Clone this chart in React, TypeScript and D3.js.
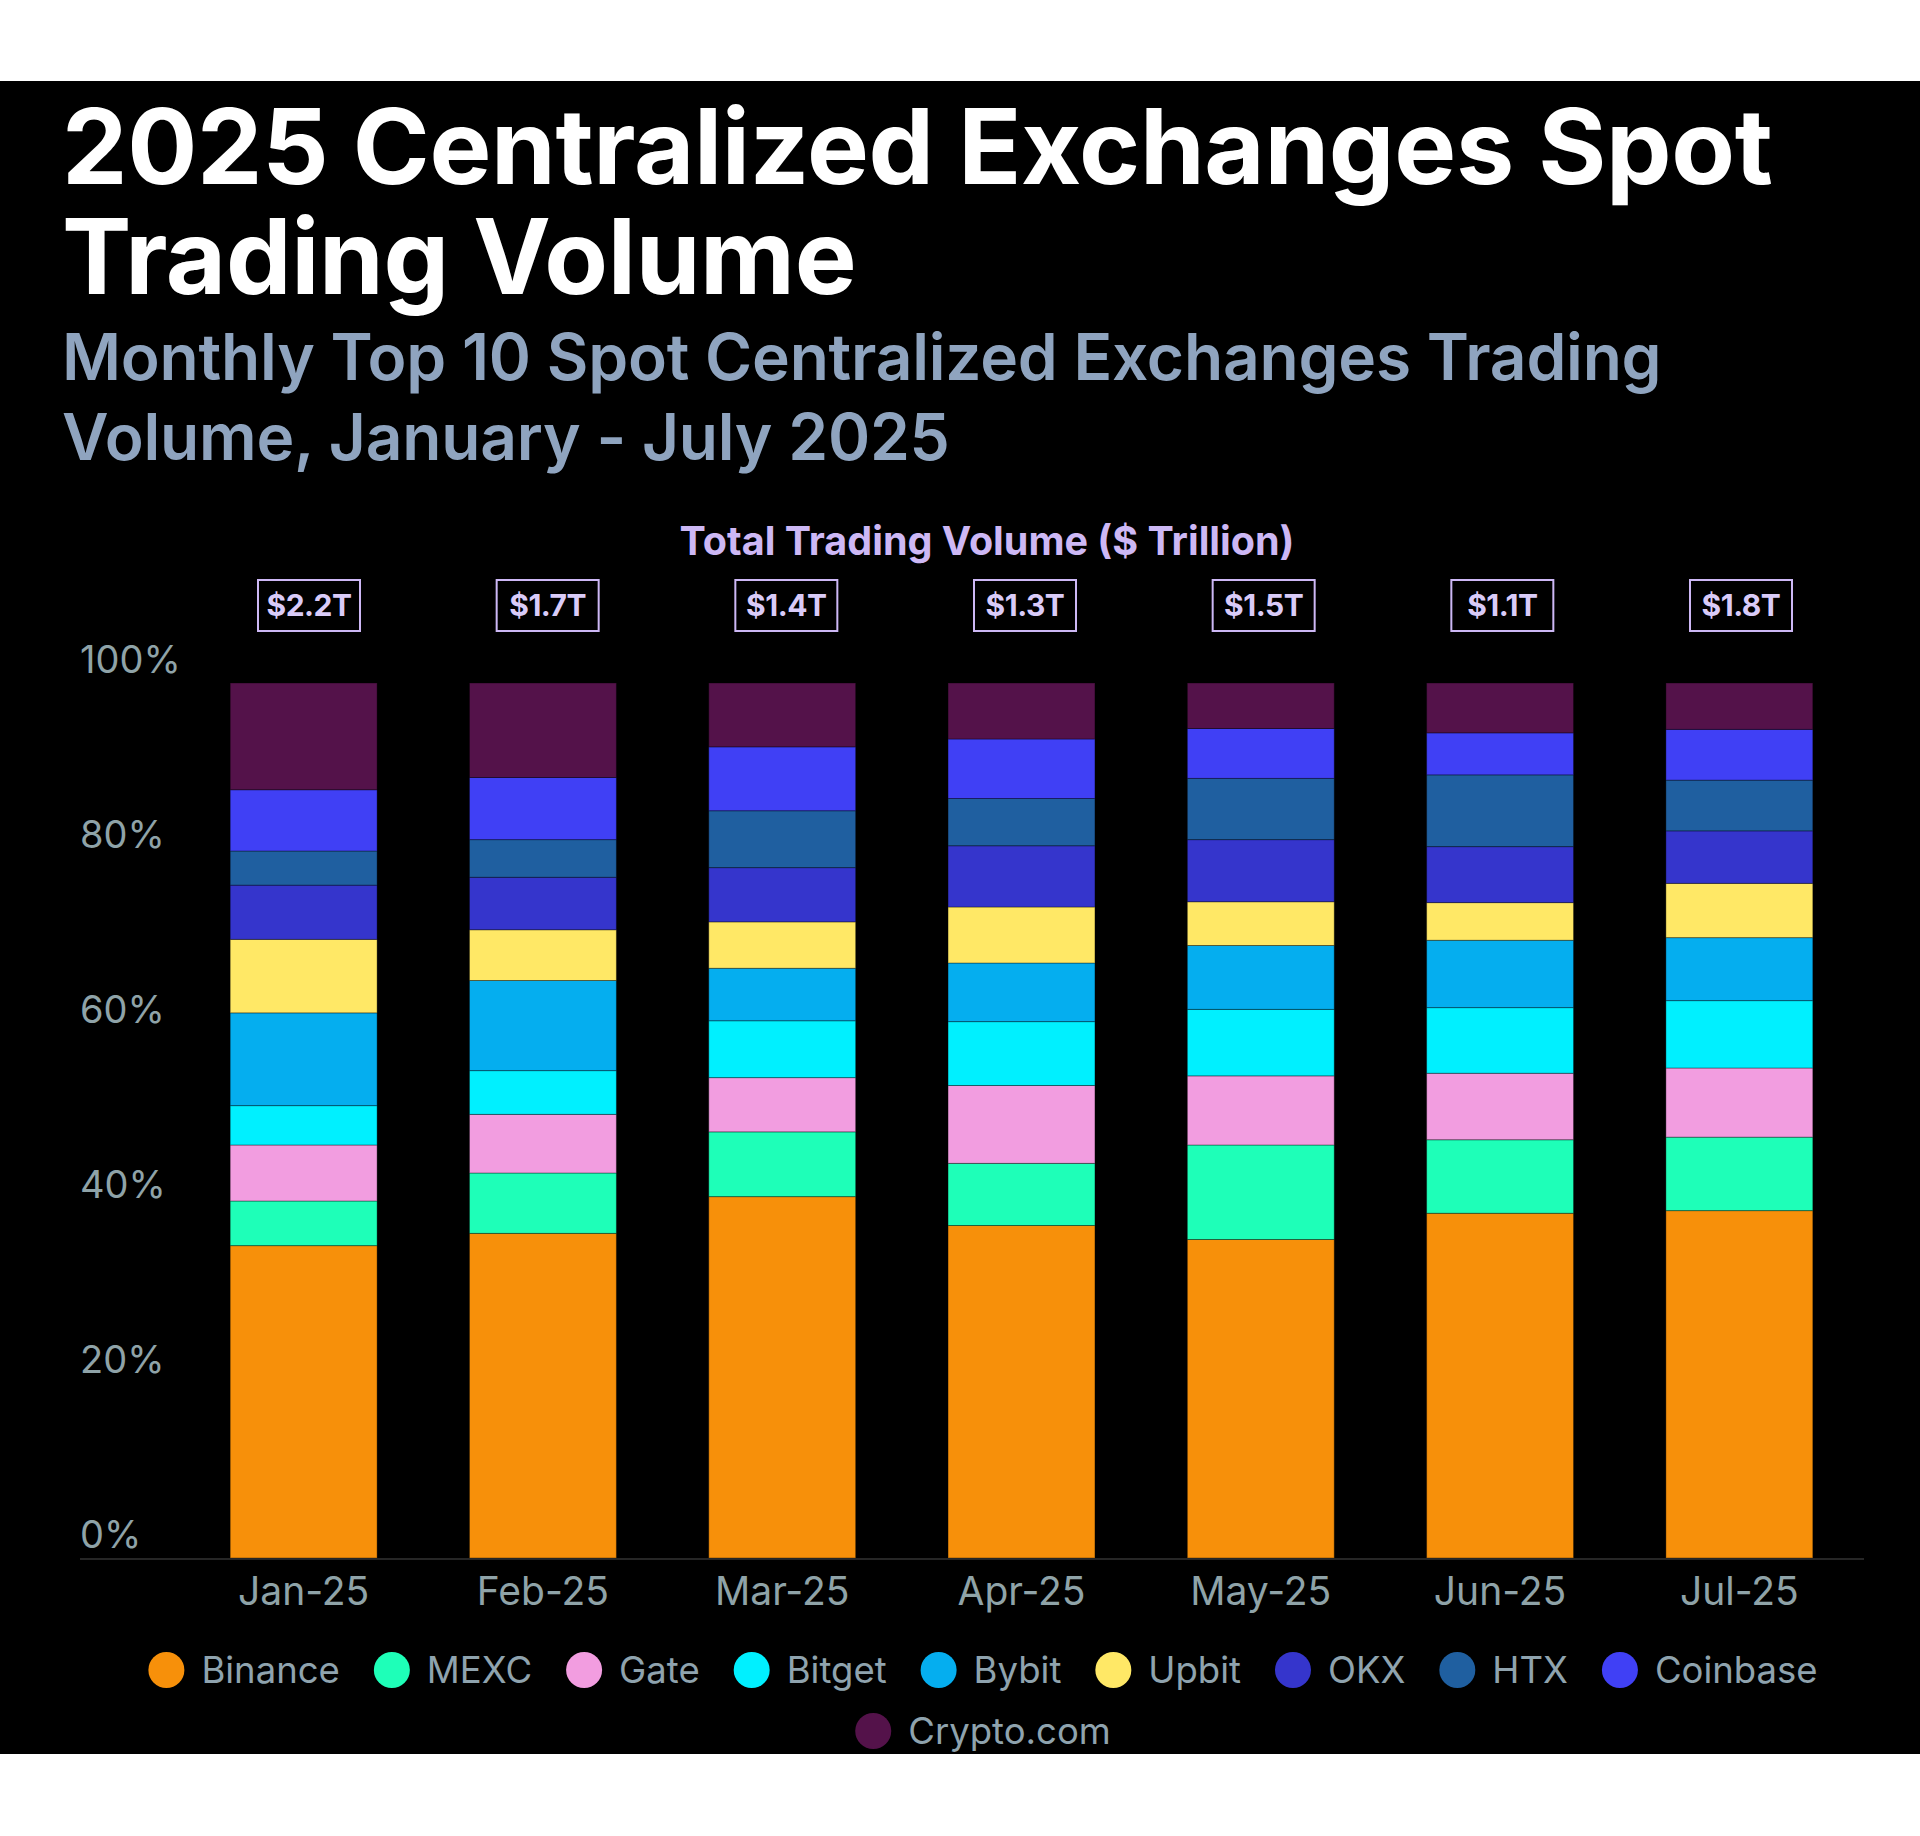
import React, { useEffect, useRef } from "react";
import * as d3 from "d3";

const months = ["Jan-25", "Feb-25", "Mar-25", "Apr-25", "May-25", "Jun-25", "Jul-25"];
const totals = ["$2.2T", "$1.7T", "$1.4T", "$1.3T", "$1.5T", "$1.1T", "$1.8T"];
const exchanges = ["Binance", "MEXC", "Gate", "Bitget", "Bybit", "Upbit", "OKX", "HTX", "Coinbase", "Crypto.com"];
const colors = ["#F7900A", "#1EFFB8", "#F29DE0", "#00F0FF", "#05AEEF", "#FFE866", "#3535CC", "#1F5FA0", "#4040F5", "#54124A"];
const yTicks = [0, 20, 40, 60, 80, 100];

// share of monthly volume, %
const binance = [35.7, 37.1, 41.3, 38.0, 36.4, 39.4, 39.7];
const mexc = [5.1, 6.9, 7.4, 7.1, 10.8, 8.4, 8.4];
const gate = [6.4, 6.7, 6.2, 8.9, 7.9, 7.6, 7.9];
const bitget = [4.5, 5.0, 6.5, 7.3, 7.6, 7.5, 7.7];
const bybit = [10.6, 10.3, 6.0, 6.7, 7.3, 7.7, 7.2];
const upbit = [8.4, 5.8, 5.3, 6.4, 5.0, 4.3, 6.2];
const okx = [6.2, 6.0, 6.2, 7.0, 7.1, 6.4, 6.0];
const htx = [3.9, 4.3, 6.5, 5.4, 7.0, 8.2, 5.8];
const coinbase = [7.0, 7.1, 7.3, 6.8, 5.7, 4.8, 5.8];
const cryptoCom = [12.2, 10.8, 7.3, 6.4, 5.2, 5.7, 5.3];

const seriesValues = [binance, mexc, gate, bitget, bybit, upbit, okx, htx, coinbase, cryptoCom];

const FONT = "Inter, 'Noto Sans', sans-serif";

const App: React.FC = () => {
  const svgRef = useRef<SVGSVGElement | null>(null);

  useEffect(() => {
    if (!svgRef.current) return;
    const svg = d3.select(svgRef.current);
    svg.selectAll("*").remove();

    const width = 1920;

    // black card
    svg.append("rect").attr("x", 0).attr("y", 81).attr("width", width).attr("height", 1673).attr("fill", "#000");

    // titles
    const title = svg.append("g").attr("font-family", FONT);
    ["2025 Centralized Exchanges Spot", "Trading Volume"].forEach((t, i) => {
      title
        .append("text")
        .attr("x", 62)
        .attr("y", 184 + i * 110)
        .attr("fill", "#fff")
        .attr("font-size", 104)
        .attr("font-weight", 700)
        .attr("letter-spacing", -0.3)
        .text(t);
    });
    ["Monthly Top 10 Spot Centralized Exchanges Trading", "Volume, January - July 2025"].forEach((t, i) => {
      title
        .append("text")
        .attr("x", 62)
        .attr("y", 380 + i * 80)
        .attr("fill", "#8FA4BF")
        .attr("font-size", 64)
        .attr("font-weight", 600)
        .attr("letter-spacing", -0.2)
        .text(t);
    });

    const table = months.map((m, i) => {
      const row: Record<string, number | string> = { month: m };
      exchanges.forEach((e, k) => (row[e] = seriesValues[k][i]));
      return row;
    });

    const x = d3.scaleBand<string>().domain(months).range([184, 1859]).paddingInner(0.386).paddingOuter(0.193);
    const xBox = d3.scalePoint<string>().domain(months).range([309, 1741]);
    const y = d3.scaleLinear().domain([0, 100]).range([1558, 683]);
    const color = d3.scaleOrdinal<string, string>().domain(exchanges).range(colors);

    const stack = d3.stack<Record<string, number | string>>().keys(exchanges).value((d, k) => d[k] as number);
    const layers = stack(table);

    // total volume header
    svg
      .append("text")
      .attr("x", 987)
      .attr("y", 555)
      .attr("text-anchor", "middle")
      .attr("font-family", FONT)
      .attr("font-size", 39.5)
      .attr("font-weight", 700)
      .attr("fill", "#CDB8F5")
      .text("Total Trading Volume ($ Trillion)");

    const boxes = svg.append("g").attr("font-family", FONT);
    months.forEach((m, i) => {
      const cx = xBox(m)!;
      boxes
        .append("rect")
        .attr("x", cx - 51)
        .attr("y", 580)
        .attr("width", 102)
        .attr("height", 51)
        .attr("fill", "none")
        .attr("stroke", "#CDB8F5")
        .attr("stroke-width", 2);
      boxes
        .append("text")
        .attr("x", cx)
        .attr("y", 616)
        .attr("text-anchor", "middle")
        .attr("font-size", 30)
        .attr("font-weight", 700)
        .attr("letter-spacing", -0.5)
        .attr("fill", "#D9CBF8")
        .text(totals[i]);
    });

    // y labels (sit above the tick position)
    svg
      .append("g")
      .selectAll("text")
      .data(yTicks)
      .join("text")
      .attr("x", 80)
      .attr("y", (d) => y(d) - 10)
      .attr("font-family", FONT)
      .attr("font-size", 38)
      .attr("fill", "#8FA3A8")
      .text((d) => `${d}%`);

    // bars
    svg
      .append("g")
      .selectAll("g")
      .data(layers)
      .join("g")
      .attr("fill", (d) => color(d.key))
      .selectAll("rect")
      .data((d) => d)
      .join("rect")
      .attr("x", (d) => x(d.data.month as string)!)
      .attr("y", (d) => y(d[1]))
      .attr("width", x.bandwidth())
      .attr("height", (d) => y(d[0]) - y(d[1]))
      .attr("stroke", "rgba(0,0,0,0.35)")
      .attr("stroke-width", 1);

    // baseline
    svg.append("line").attr("x1", 80).attr("x2", 1864).attr("y1", 1559).attr("y2", 1559).attr("stroke", "#262626").attr("stroke-width", 2);

    // x labels
    svg
      .append("g")
      .selectAll("text")
      .data(months)
      .join("text")
      .attr("x", (d) => x(d)! + x.bandwidth() / 2)
      .attr("y", 1605)
      .attr("text-anchor", "middle")
      .attr("font-family", FONT)
      .attr("font-size", 39)
      .attr("fill", "#8FA3A8")
      .text((d) => d);

    // legend, centred and wrapped
    const legend = svg.append("g").attr("font-family", FONT);
    const r = 18;
    const textGap = 35;
    const itemGap = 34;
    const maxW = 1720;
    const items = exchanges.map((e) => {
      const g = legend.append("g");
      g.append("circle").attr("r", r).attr("fill", color(e));
      const t = g
        .append("text")
        .attr("x", textGap)
        .attr("dy", "0.36em")
        .attr("font-size", 36.5)
        .attr("fill", "#8FA3AE")
        .text(e);
      const w = textGap + (t.node() as SVGTextElement).getComputedTextLength() + r;
      return { g, w };
    });
    const rows: { g: any; w: number }[][] = [[]];
    let rowW = 0;
    items.forEach((it) => {
      const add = (rows[rows.length - 1].length ? itemGap : 0) + it.w;
      if (rowW + add > maxW && rows[rows.length - 1].length) {
        rows.push([it]);
        rowW = it.w;
      } else {
        rows[rows.length - 1].push(it);
        rowW += add;
      }
    });
    rows.forEach((row, ri) => {
      const total = d3.sum(row, (d) => d.w) + itemGap * (row.length - 1);
      let cx = 983 - total / 2 + r;
      row.forEach((it) => {
        it.g.attr("transform", `translate(${cx},${1670 + ri * 61})`);
        cx += it.w + itemGap;
      });
    });
  }, []);

  return <svg ref={svgRef} width={1920} height={1836} style={{ position: "absolute", left: 0, top: 0 }}></svg>;
};

export default App;
